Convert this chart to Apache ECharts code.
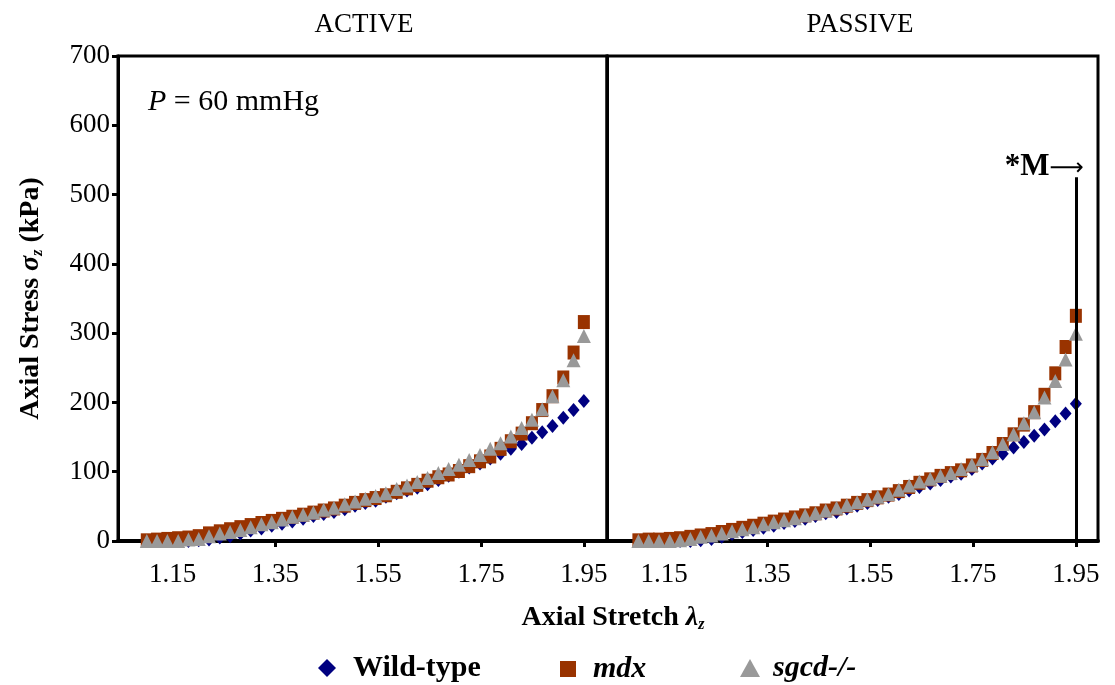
<!DOCTYPE html>
<html>
<head>
<meta charset="utf-8">
<script src="https://cdn.jsdelivr.net/npm/echarts@6/dist/echarts.min.js"></script>
<style>html,body{margin:0;padding:0;background:#fff;}#chart{width:1115px;height:685px;}</style>
</head>
<body>
<div id="chart"></div>
<script>
// Axial stretch values (x)
const lambda = [1.100,1.120,1.140,1.161,1.181,1.201,1.221,1.242,1.262,1.282,1.302,1.323,1.343,1.363,1.383,1.404,1.424,1.444,1.464,1.485,1.505,1.525,1.545,1.565,1.586,1.606,1.626,1.646,1.667,1.687,1.707,1.727,1.748,1.768,1.788,1.808,1.829,1.849,1.869,1.889,1.910,1.930,1.950];

// ACTIVE panel (kPa)
const activeWT   = [0,0,0,0,0,1,2,5,7,11,15,18,22,25,28,32,36,39,42,46,51,55,58,64,69,73,77,82,88,94,100,106,112,119,126,133,140,149,157,166,178,189,202];
const activeMdx  = [1,2,3,4,5,7,11,14,17,20,23,26,29,32,35,38,41,44,47,51,55,59,62,66,71,76,81,87,92,96,101,108,115,122,133,144,155,170,189,209,236,272,316];
const activeSgcd = [0,0,0,0,2,3,7,11,13,16,20,24,27,31,35,38,41,45,48,53,57,61,65,69,75,80,85,91,98,104,110,117,124,133,141,151,163,175,190,209,232,261,296];

// PASSIVE panel (kPa)
const passiveWT   = [0,0,0,0,0,0,1,3,6,10,13,16,19,22,26,29,32,36,40,42,47,51,55,59,64,68,73,78,83,88,93,97,104,112,119,126,135,143,152,161,173,184,198];
const passiveMdx  = [1,2,2,3,4,6,8,10,13,16,19,22,25,28,31,34,37,40,44,47,51,55,59,63,67,72,78,84,89,94,98,102,109,117,127,140,154,168,186,211,242,280,325];
const passiveSgcd = [0,0,0,0,1,3,6,8,11,14,17,20,24,27,30,33,37,40,44,48,52,56,60,64,68,74,80,86,90,94,98,104,110,118,128,140,154,170,186,207,231,262,299];

// Ticks and annotation
const xTicks = [1.15,1.35,1.55,1.75,1.95];
const markerLambda = 1.95;
const markerTop = 525;

const groups = ['Wild-type','mdx','sgcd-/-'];
const colors = ['#000080','#993300','#999999'];
const symbols = ['diamond','rect','triangle'];
const symSizes = [[12,14],[12,14],[14,14]];

const FONT = 'Liberation Serif';

function pairs(xs, ys){ return xs.map((x,i)=>[x, ys[i]]); }

const panelData = [
  [activeWT, activeMdx, activeSgcd],
  [passiveWT, passiveMdx, passiveSgcd]
];

const series = [];
series.push({
  type:'scatter', name:'annot', xAxisIndex:1, yAxisIndex:1, data:[], z:1, silent:true,
  markLine:{
    silent:true, symbol:['none','none'], animation:false,
    lineStyle:{color:'#000', width:3, type:'solid'},
    label:{show:false},
    data:[[{coord:[markerLambda,0]},{coord:[markerLambda,markerTop]}]]
  },
  markPoint:{
    silent:true, animation:false, symbol:'circle', symbolSize:0,
    data:[{coord:[markerLambda,markerTop]}],
    label:{
      show:true, position:[0,0], align:'right', verticalAlign:'middle', offset:[8,-10],
      formatter:'{b|*M}{a|⟶}',
      rich:{
        b:{fontFamily:FONT, fontWeight:'bold', fontSize:31, color:'#000'},
        a:{fontFamily:'DejaVu Sans', fontSize:24, color:'#000', padding:[4,0,0,0]}
      }
    }
  }
});
for (let p=0;p<2;p++){
  for (let g=0; g<3; g++){
    series.push({
      type:'scatter', name:groups[g], xAxisIndex:p, yAxisIndex:p,
      symbol:symbols[g], symbolSize:symSizes[g],
      itemStyle:{color:colors[g], opacity:1},
      z:2+g, animation:false,
      data:pairs(lambda, panelData[p][g])
    });
  }
}

function xAxisCfg(idx, min, max){
  return {
    type:'value', gridIndex:idx, min:min, max:max,
    axisLine:{show:true, onZero:false, lineStyle:{color:'#000', width:4}},
    axisTick:{show:true, customValues:xTicks, length:6, inside:false, lineStyle:{color:'#000', width:3}},
    axisLabel:{show:true, customValues:xTicks, formatter:v=>v.toFixed(2), fontFamily:FONT, fontSize:27, color:'#000', margin:20},
    splitLine:{show:false}
  };
}

const richName = {
  b:{fontFamily:FONT, fontWeight:'bold', fontSize:28, color:'#000'},
  s:{fontFamily:FONT, fontWeight:'bold', fontStyle:'italic', fontSize:28, color:'#000'},
  sub:{fontFamily:FONT, fontWeight:'bold', fontStyle:'italic', fontSize:16, color:'#000', verticalAlign:'bottom', padding:[14,0,0,0]}
};

const option = {
  backgroundColor:'#fff',
  animation:false,
  grid:[
    {left:118, top:56, width:489, height:485, show:true, borderColor:'#000', borderWidth:3, backgroundColor:'transparent'},
    {left:607, top:56, width:491, height:485, show:true, borderColor:'#000', borderWidth:3, backgroundColor:'transparent'}
  ],
  xAxis:[ xAxisCfg(0, 1.044, 1.995), xAxisCfg(1, 1.039, 1.993) ],
  yAxis:[
    {type:'value', gridIndex:0, min:0, max:700, interval:100,
     axisLine:{show:true, lineStyle:{color:'#000', width:3}},
     axisTick:{show:true, length:6, lineStyle:{color:'#000', width:3}},
     axisLabel:{fontFamily:FONT, fontSize:27, color:'#000', margin:8},
     splitLine:{show:false},
     name:'{b|Axial Stress }{s|σ}{sub|z}{b| (kPa)}',
     nameLocation:'middle', nameGap:72, nameRotate:90,
     nameTextStyle:{rich:richName}
    },
    {type:'value', gridIndex:1, min:0, max:700, interval:100,
     axisLine:{show:true, lineStyle:{color:'#000', width:3}},
     axisTick:{show:false}, axisLabel:{show:false}, splitLine:{show:false}}
  ],
  legend:[
    {data:[{name:'Wild-type', icon:'diamond'}], left:313, top:648, itemWidth:18, itemHeight:18,
     textStyle:{fontFamily:FONT, fontWeight:'bold', fontSize:30, color:'#000', padding:[0,0,0,12]}},
    {data:[{name:'mdx', icon:'rect'}], left:555, top:649, itemWidth:16, itemHeight:16,
     textStyle:{fontFamily:FONT, fontWeight:'bold', fontStyle:'italic', fontSize:30, color:'#000', padding:[0,0,0,12]}},
    {data:[{name:'sgcd-/-', icon:'triangle'}], left:735, top:648, itemWidth:20, itemHeight:18,
     textStyle:{fontFamily:FONT, fontWeight:'bold', fontStyle:'italic', fontSize:30, color:'#000', padding:[0,0,0,8]}}
  ],
  graphic:[
    {type:'text', x:364, y:25, style:{text:'ACTIVE', fontFamily:FONT, fontSize:27, fill:'#000', align:'center', verticalAlign:'middle'}},
    {type:'text', x:860, y:25, style:{text:'PASSIVE', fontFamily:FONT, fontSize:27, fill:'#000', align:'center', verticalAlign:'middle'}},
    {type:'text', x:148, y:102, style:{text:'{i|P}{r| = 60 mmHg}', align:'left', verticalAlign:'middle',
      rich:{i:{fontFamily:FONT, fontStyle:'italic', fontSize:30, fill:'#000'}, r:{fontFamily:FONT, fontSize:30, fill:'#000'}}}},
    {type:'text', x:613, y:618, style:{text:'{b|Axial Stretch }{s|λ}{sub|z}', align:'center', verticalAlign:'middle',
      rich:{
        b:{fontFamily:FONT, fontWeight:'bold', fontSize:28, fill:'#000'},
        s:{fontFamily:FONT, fontWeight:'bold', fontStyle:'italic', fontSize:28, fill:'#000'},
        sub:{fontFamily:FONT, fontWeight:'bold', fontStyle:'italic', fontSize:16, fill:'#000', verticalAlign:'bottom', padding:[14,0,0,0]}
      }}}
  ],
  series:series
};

const chart = echarts.init(document.getElementById('chart'), null, {renderer:'canvas'});
chart.setOption(option);
</script>
</body>
</html>
